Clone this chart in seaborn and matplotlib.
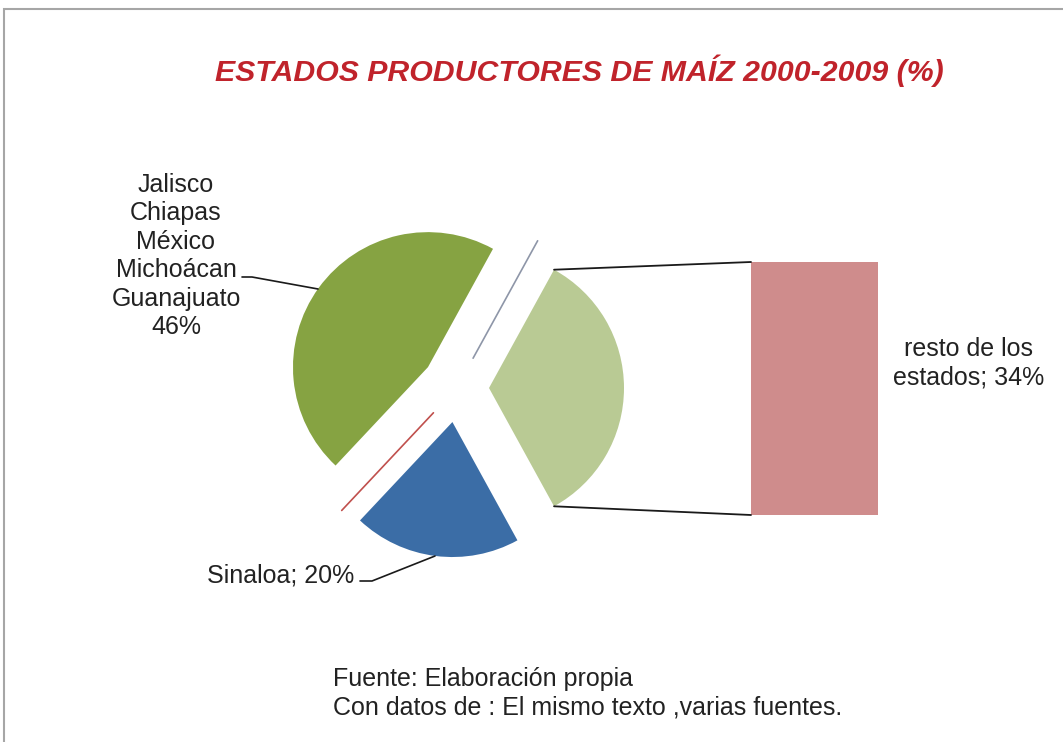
import numpy as np
import matplotlib
matplotlib.use("Agg")
import matplotlib.pyplot as plt
import seaborn as sns
from matplotlib.patches import ConnectionPatch, Rectangle

# data
categories = ["resto de los estados", "Jalisco\nChiapas\nMéxico\nMichoácan\nGuanajuato", "Sinaloa"]
values = [34, 46, 20]
bar_value = [34]
title = "ESTADOS PRODUCTORES DE MAÍZ 2000-2009 (%)"
source_lines = ["Fuente: Elaboración propia", "Con datos de : El mismo texto ,varias fuentes."]

colors = ["#B9CA94", "#86A342", "#3B6DA6"]
bar_color = "#CF8C8C"
explode = [32.3, 35.5, 34.3]  # offsets in pixels (axes use pixel units)

sns.set_theme(style="white")
plt.rcParams["font.family"] = ["Liberation Sans", "DejaVu Sans"]

W, H = 1063, 742
fig = plt.figure(figsize=(W / 100, H / 100), dpi=100)
fig.patch.set_facecolor("white")
ax = fig.add_axes([0, 0, 1, 1])

# outer frame (right/bottom edges outside picture)
ax.add_patch(Rectangle((4, -20), 1100, H - 9 + 20, fill=False, ec="#A6A6A6", lw=1.5))

cx, cy, R = 456.7, H - 388, 135
start = -values[0] / 100 * 180
wedges, _ = ax.pie(values, explode=explode, colors=colors, center=(cx, cy), radius=R,
                   startangle=start, counterclock=True, frame=True,
                   wedgeprops=dict(linewidth=0))
ax.set_xlim(0, W)
ax.set_ylim(0, H)
ax.set_aspect("equal")
ax.axis("off")

# series lines between exploded slices
for ang, col in [(wedges[0].theta2, "#8E96A8"), (wedges[1].theta2, "#C0504D")]:
    a = np.deg2rad(ang)
    ax.plot([cx + 34 * np.cos(a), cx + 168 * np.cos(a)],
            [cy + 34 * np.sin(a), cy + 168 * np.sin(a)], color=col, lw=1.2)

# bar of "resto de los estados"
ax2 = fig.add_axes([751 / W, (H - 515) / H, 127 / W, 253 / H])
sns.barplot(x=[""], y=bar_value, color=bar_color, width=1, saturation=1, ax=ax2, linewidth=0)
ax2.set_xlim(-0.5, 0.5)
ax2.set_ylim(0, bar_value[0])
ax2.axis("off")

# connector lines
w0 = wedges[0]
wcx, wcy = w0.center
for th, yb in [(w0.theta2, bar_value[0]), (w0.theta1, 0)]:
    a = np.deg2rad(th)
    p = (wcx + R * np.cos(a), wcy + R * np.sin(a))
    con = ConnectionPatch(xyA=p, coordsA=ax.transData, xyB=(-0.5, yb), coordsB=ax2.transData,
                          color="#1a1a1a", lw=1.3)
    fig.add_artist(con)

fs = 18
ax2.text(1.71, 0.60, f"resto de los\nestados; {values[0]}%", transform=ax2.transAxes,
         ha="center", va="center", fontsize=fs, color="#222222", linespacing=1.22)

# green label + leader
ax.text(176, H - 256, f"{categories[1]}\n{values[1]}%", ha="center", va="center",
        fontsize=fs, color="#222222", linespacing=1.24)
ax.plot([242, 252, 318], [H - 277, H - 277, H - 289], color="#1a1a1a", lw=1.2)

# blue label + leader
ax.text(281, H - 575, f"{categories[2]}; {values[2]}%", ha="center", va="center",
        fontsize=fs, color="#222222")
ax.plot([360, 372, 435], [H - 581, H - 581, H - 556], color="#1a1a1a", lw=1.2)

# title
ax.text(579, H - 71, title, ha="center", va="center", fontsize=21.8, fontweight="bold",
        fontstyle="italic", color="#C0232B")

# source
ax.text(333, H - 679, source_lines[0], ha="left", va="center", fontsize=fs, color="#222222")
ax.text(333, H - 708, source_lines[1], ha="left", va="center", fontsize=fs, color="#222222")

fig.savefig("out.png", dpi=100, facecolor="white")
